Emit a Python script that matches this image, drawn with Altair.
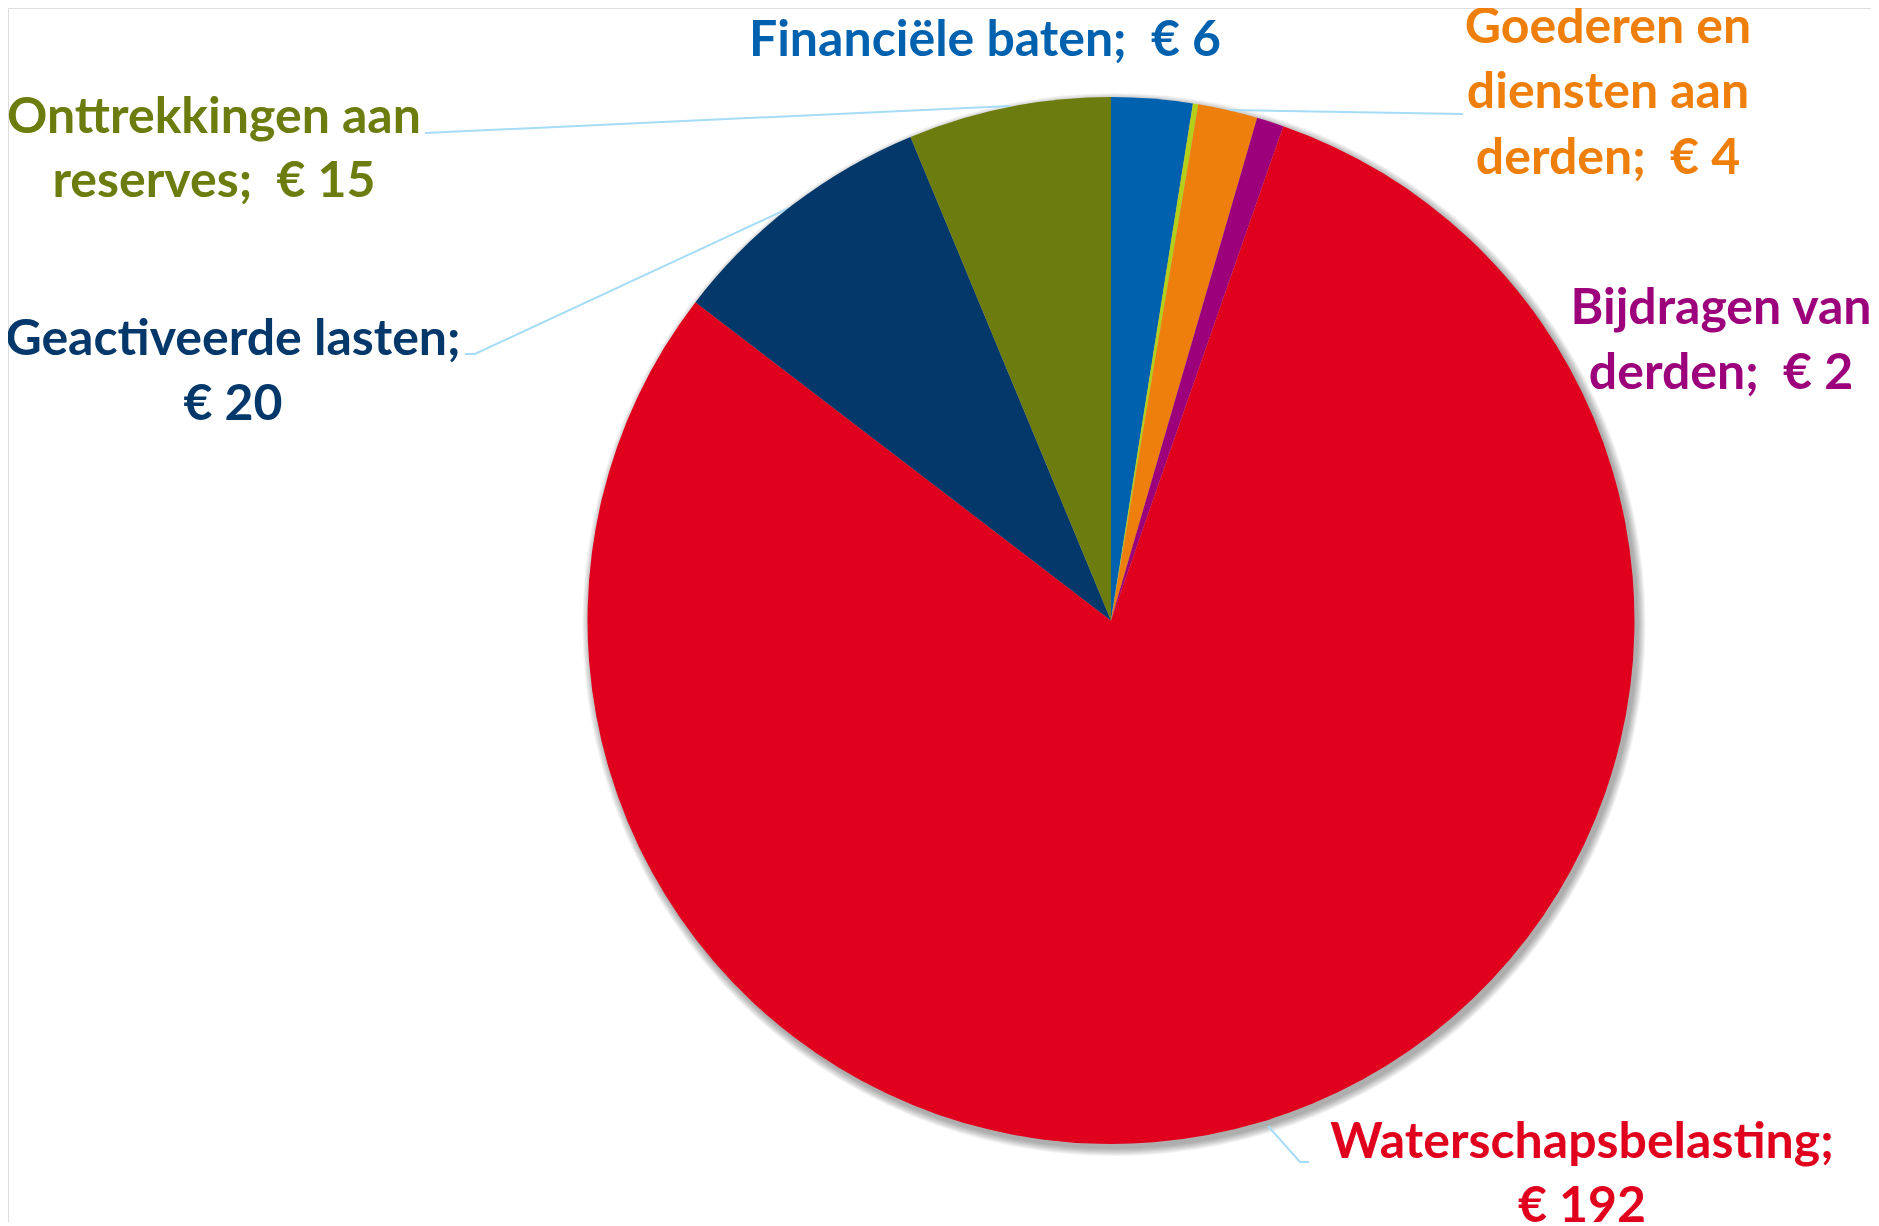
import altair as alt
import pandas as pd

# ---------------- data ----------------
categories = [
    "Financiële baten",
    "Overige baten",
    "Goederen en diensten aan derden",
    "Bijdragen van derden",
    "Waterschapsbelasting",
    "Geactiveerde lasten",
    "Onttrekkingen aan reserves",
]
values = [6, 0.4, 4.4, 2, 192, 20, 15]
colors = ["#0061AF", "#B5D018", "#EF7F0C", "#9C007B", "#E0001E", "#04386A", "#6C7C0F"]

NB = "\u00a0"  # keeps Excel's double space after the semicolon
# label text lines (Excel wrapping), value appended as rounded euro amount
label_lines = {
    "Financiële baten": ["Financiële baten;" + NB + " € {v}"],
    "Goederen en diensten aan derden": ["Goederen en", "diensten aan", "derden;" + NB + " € {v}"],
    "Bijdragen van derden": ["Bijdragen van", "derden;" + NB + " € {v}"],
    "Waterschapsbelasting": ["Waterschapsbelasting;", "€ {v}"],
    "Geactiveerde lasten": ["Geactiveerde lasten;", "€ {v}"],
    "Onttrekkingen aan reserves": ["Onttrekkingen aan", "reserves;" + NB + " € {v}"],
}

# ---------------- layout (chart pixel coordinates) ----------------
W, H = 1863, 1214
OFF = 8  # page margin
CX, CY, R = 1111 - OFF, 620.5 - OFF, 523.5
FONT = "Lato"
FS = 50

label_pos = {  # centre x, baselines (page coords)
    "Financiële baten": (985, [56]),
    "Goederen en diensten aan derden": (1608, [43, 108, 174]),
    "Bijdragen van derden": (1721, [324, 389]),
    "Waterschapsbelasting": (1582, [1158, 1222]),
    "Geactiveerde lasten": (233, [355, 420]),
    "Onttrekkingen aan reserves": (214, [133, 197]),
}
leaders = {  # leader line points (page coords)
    "Onttrekkingen aan reserves": [(425, 133), (1010, 106)],
    "Geactiveerde lasten": [(465, 354), (475, 354), (789, 208)],
    "Goederen en diensten aan derden": [(1228, 110), (1463, 114)],
    "Waterschapsbelasting": [(1268, 1126), (1300, 1162), (1309, 1162)],
}

# ---------------- tables ----------------
pie_df = pd.DataFrame({"category": categories, "value": values, "idx": range(len(values))})

rows = []
for cat, lines in label_lines.items():
    v = round(values[categories.index(cat)])
    cx, ys = label_pos[cat]
    for line, yb in zip(lines, ys):
        rows.append({"category": cat, "text": line.format(v=v), "x": cx - OFF, "y": yb - OFF})
text_df = pd.DataFrame(rows)

lrows = []
for cat, pts in leaders.items():
    for i, (px, py) in enumerate(pts):
        lrows.append({"category": cat, "o": i, "x": px - OFF, "y": py - OFF})
lead_df = pd.DataFrame(lrows)

xs = alt.Scale(domain=[0, W], range=[0, W], nice=False, zero=False)
ys_ = alt.Scale(domain=[0, H], range=[0, H], nice=False, zero=False)
cscale = alt.Scale(domain=categories, range=colors)

# soft shadow (Excel outer shadow)
shadow_layers = []
one = pd.DataFrame({"d": [0]})
for k in range(1, 10):
    shadow_layers.append(
        alt.Chart(one)
        .mark_arc(theta=0, theta2=6.2832, outerRadius=R + k * 0.9, color="#000000", opacity=0.04)
        .encode(x=alt.value(CX + 3), y=alt.value(CY + 4))
    )

leader_layer = (
    alt.Chart(lead_df)
    .mark_line(color="#A6DCF6", strokeWidth=2)
    .encode(
        x=alt.X("x:Q", scale=xs, axis=None),
        y=alt.Y("y:Q", scale=ys_, axis=None),
        detail="category:N",
        order="o:Q",
    )
)

pie = (
    alt.Chart(pie_df)
    .mark_arc(outerRadius=R)
    .encode(
        theta=alt.Theta("value:Q", stack=True),
        order=alt.Order("idx:Q"),
        color=alt.Color("category:N", scale=cscale, legend=None),
        x=alt.value(CX),
        y=alt.value(CY),
    )
)

labels = (
    alt.Chart(text_df)
    .mark_text(font=FONT, fontSize=FS, fontWeight="bold", align="center", baseline="alphabetic")
    .encode(
        x=alt.X("x:Q", scale=xs, axis=None),
        y=alt.Y("y:Q", scale=ys_, axis=None),
        text="text:N",
        color=alt.Color("category:N", scale=cscale, legend=None),
    )
)

chart = (
    alt.layer(*shadow_layers, leader_layer, pie, labels)
    .properties(width=W, height=H, padding=0, autosize=alt.AutoSizeParams(type="none"))
    .configure_view(strokeWidth=0, stroke="transparent")
    .configure(background="white")
)

chart.save("out.html", embed_options={"renderer": "svg", "actions": False})
